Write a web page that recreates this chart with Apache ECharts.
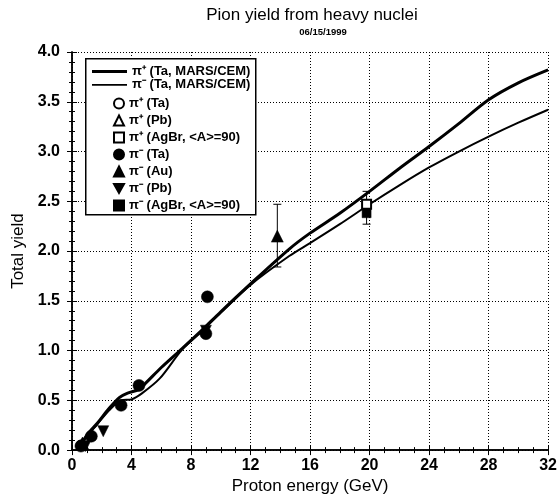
<!DOCTYPE html>
<html>
<head>
<meta charset="utf-8">
<script src="https://cdn.jsdelivr.net/npm/echarts@6/dist/echarts.min.js"></script>
<style>html,body{margin:0;padding:0;background:#fff}#c{width:560px;height:500px}</style>
</head>
<body>
<div id="c"></div>
<script>
// ---- data ----
var xTicks = [0, 4, 8, 12, 16, 20, 24, 28, 32];
var yTicks = [0.0, 0.5, 1.0, 1.5, 2.0, 2.5, 3.0, 3.5, 4.0];

var piPlusMars = [[0.4,0.0],[1.0,0.15],[1.7,0.27],[2.5,0.42],[3.2,0.53],[3.7,0.57],[4.5,0.61],[5.0,0.68],[6.0,0.83],[7.4,1.02],[8.7,1.2],[10,1.39],[12,1.67],[14.6,2.02],[16,2.18],[18,2.38],[20,2.6],[22,2.83],[24,3.05],[26,3.28],[28,3.52],[30,3.69],[32,3.82]];
var piMinusMars = [[0.4,0.0],[1.0,0.14],[1.7,0.26],[2.5,0.4],[3.3,0.5],[4.0,0.51],[4.7,0.57],[5.9,0.72],[7.4,1.01],[8.7,1.19],[10,1.38],[12,1.66],[14.6,1.95],[16,2.08],[18,2.27],[20,2.47],[22,2.66],[24,2.84],[26,3.0],[28,3.15],[30,3.29],[32,3.42]];

var piPlusTa = [[0.6,0.05]];
var piPlusPb = [[0.7,0.06]];
var piPlusAgBr = [[19.8,2.47]];
var piMinusTa = [[0.6,0.04],[1.3,0.14],[3.3,0.45],[4.5,0.65],[9.1,1.54],[9.0,1.17]];
var piMinusAu = [[0.7,0.07],[13.8,2.15]];
var piMinusPb = [[0.9,0.04],[2.1,0.19],[9.0,1.2]];
var piMinusAgBr = [[19.8,2.38]];

var errBars = [[13.8,1.84,2.47],[19.8,2.27,2.6]];
// ---- end data ----

var F = '"Liberation Sans", Arial, Helvetica, sans-serif';
var downTri = 'path://M0,0L10,0L5,9Z';
var chart = echarts.init(document.getElementById('c'), null, {renderer:'canvas'});

function sc(name, data, symbol, size, empty) {
  return {
    type: 'scatter', name: name, data: data, symbol: symbol, symbolSize: size,
    xAxisIndex: 0, yAxisIndex: 0, z: 4,
    itemStyle: empty ? {color:'#000', borderColor:'#000', borderWidth:1.8, opacity:1}
                     : {color:'#000', borderColor:'#000', borderWidth:0.5, opacity:1}
  };
}

var n1 = 'π⁺ (Ta, MARS/CEM)', n2 = 'π⁻ (Ta, MARS/CEM)';
var mk = ['π⁺ (Ta)','π⁺ (Pb)','π⁺ (AgBr, <A>=90)','π⁻ (Ta)','π⁻ (Au)','π⁻ (Pb)','π⁻ (AgBr, <A>=90)'];

var axisCommon = {
  axisLine: {show:true, lineStyle:{color:'#000', width:1.5}},
  axisTick: {show:true, inside:true, length:5, lineStyle:{color:'#000', width:1}}
};
var lblStyle = {fontFamily:F, fontSize:16, fontWeight:'bold', color:'#000'};
var nameStyle = {fontFamily:F, fontSize:17, fontWeight:'normal', color:'#000'};
var legText = {fontFamily:F, fontSize:13, fontWeight:'bold', color:'#000', lineHeight:13};

var option = {
  animation: false,
  backgroundColor: '#fff',
  title: [
    {text:'Pion yield from heavy nuclei', left:312, top:7, textAlign:'center', padding:0,
     textStyle:{fontFamily:F, fontSize:17, fontWeight:'normal', color:'#000'}},
    {text:'06/15/1999', left:323, top:27, textAlign:'center', padding:0,
     textStyle:{fontFamily:F, fontSize:9.5, fontWeight:'bold', color:'#000'}}
  ],
  grid: {left:72, right:11, top:52, bottom:48, show:false},
  legend: [
    {data:[{name:n1, icon:'path://M0,0H35V3.2H0Z'}, {name:n2, icon:'path://M0,0H35V1.8H0Z'}],
     orient:'vertical', left:92, top:65, padding:0, itemWidth:35, itemHeight:13, itemGap:0.3,
     textStyle:legText},
    {data:mk, orient:'vertical', left:113, top:97, padding:0, itemWidth:10, itemHeight:10, itemGap:4,
     textStyle:legText}
  ],
  graphic: [
    {type:'rect', left:85, top:58, z:2, shape:{width:170, height:156},
     style:{fill:'#fff', stroke:'#000', lineWidth:1.5}}
  ],
  xAxis: [
    Object.assign({}, axisCommon, {
      type:'value', min:0, max:32, interval:4, position:'bottom',
      minorTick:{show:true, splitNumber:4, length:3, lineStyle:{color:'#000'}},
      splitLine:{show:true, lineStyle:{color:'#000', type:[1,2], width:1}},
      axisLabel:Object.assign({margin:7, formatter:function(v){return xTicks.indexOf(v)>=0 ? String(v) : '';}}, lblStyle),
      name:'Proton energy (GeV)', nameLocation:'middle', nameGap:25, nameTextStyle:nameStyle
    }),
    Object.assign({}, axisCommon, {
      type:'value', min:0, max:32, interval:4, position:'top',
      minorTick:{show:true, splitNumber:4, length:3, lineStyle:{color:'#000'}},
      splitLine:{show:false}, axisLabel:{show:false}
    })
  ],
  yAxis: [
    Object.assign({}, axisCommon, {
      type:'value', min:0, max:4, interval:0.5, position:'left',
      minorTick:{show:true, splitNumber:5, length:3, lineStyle:{color:'#000'}},
      splitLine:{show:true, lineStyle:{color:'#000', type:[1,2], width:1}},
      axisLabel:Object.assign({margin:12, formatter:function(v){return v.toFixed(1);}}, lblStyle),
      name:'Total yield', nameLocation:'middle', nameGap:42, nameTextStyle:nameStyle
    }),
    Object.assign({}, axisCommon, {
      type:'value', min:0, max:4, interval:0.5, position:'right',
      minorTick:{show:true, splitNumber:5, length:3, lineStyle:{color:'#000'}},
      splitLine:{show:false}, axisLabel:{show:false}
    })
  ],
  series: [
    {type:'line', name:n1, data:piPlusMars, symbol:'none', smooth:0.3, z:3,
     lineStyle:{color:'#000', width:3}, itemStyle:{color:'#000'}},
    {type:'line', name:n2, data:piMinusMars, symbol:'none', smooth:0.3, z:3,
     lineStyle:{color:'#000', width:2}, itemStyle:{color:'#000'}},
    sc(mk[0], piPlusTa, 'emptyCircle', 9, true),
    sc(mk[1], piPlusPb, 'emptyTriangle', 10, true),
    sc(mk[2], piPlusAgBr, 'emptyRect', 9, true),
    sc(mk[3], piMinusTa, 'circle', 12, false),
    sc(mk[4], piMinusAu, 'triangle', 12, false),
    sc(mk[5], piMinusPb, downTri, 11, false),
    sc(mk[6], piMinusAgBr, 'rect', 9, false),
    {type:'custom', name:'err', data:errBars, z:3, silent:true,
     renderItem:function(params, api){
       var x = api.value(0), lo = api.value(1), hi = api.value(2);
       var p1 = api.coord([x, lo]), p2 = api.coord([x, hi]);
       var s = {stroke:'#000', lineWidth:1};
       return {type:'group', children:[
         {type:'line', shape:{x1:p1[0], y1:p1[1], x2:p2[0], y2:p2[1]}, style:s},
         {type:'line', shape:{x1:p1[0]-4, y1:p1[1], x2:p1[0]+4, y2:p1[1]}, style:s},
         {type:'line', shape:{x1:p2[0]-4, y1:p2[1], x2:p2[0]+4, y2:p2[1]}, style:s}
       ]};
     }}
  ]
};
chart.setOption(option);
</script>
</body>
</html>
